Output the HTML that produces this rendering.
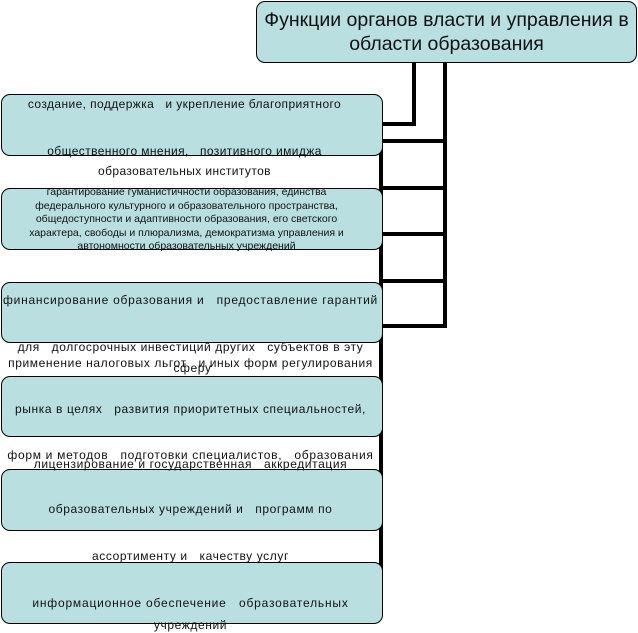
<!DOCTYPE html>
<html><head><meta charset="utf-8"><style>
body{margin:0;width:638px;height:633px;background:#fff;position:relative;overflow:hidden;font-family:"Liberation Sans","DejaVu Sans",sans-serif;}
.b{position:absolute;background:#b9dfe1;border:1px solid #000;border-radius:9px;box-sizing:border-box;}
.l{position:absolute;background:#000;}
.t{position:absolute;left:0;width:385px;text-align:center;font-size:12px;line-height:14px;color:#111;white-space:nowrap;letter-spacing:0.4px;}
.s{font-size:10.5px;line-height:13.5px;letter-spacing:0;}
</style></head><body>
<div class="b" style="left:256px;top:1px;width:381px;height:62px;"></div>
<div style="position:absolute;left:256px;top:8px;width:381px;text-align:center;font-size:19.5px;line-height:24px;color:#111;">Функции органов власти и управления в<br>области образования</div>

<div class="l" style="left:412px;top:62px;width:4px;height:64px;"></div>
<div class="l" style="left:382px;top:122px;width:34px;height:4px;"></div>
<div class="l" style="left:443px;top:62px;width:4px;height:266px;"></div>
<div class="l" style="left:379px;top:139px;width:4px;height:455px;"></div>
<div class="l" style="left:381px;top:139px;width:66px;height:4px;"></div>
<div class="l" style="left:381px;top:186px;width:66px;height:4px;"></div>
<div class="l" style="left:381px;top:232px;width:66px;height:4px;"></div>
<div class="l" style="left:381px;top:279px;width:66px;height:4px;"></div>
<div class="l" style="left:381px;top:324px;width:66px;height:4px;"></div>

<div class="b" style="left:1px;top:94px;width:382px;height:62px;"></div>
<div class="b" style="left:1px;top:188px;width:382px;height:62px;"></div>
<div class="b" style="left:1px;top:282px;width:382px;height:61px;"></div>
<div class="b" style="left:1px;top:376px;width:382px;height:61px;"></div>
<div class="b" style="left:1px;top:469px;width:382px;height:62px;"></div>
<div class="b" style="left:1px;top:562px;width:382px;height:62px;"></div>

<div class="t" style="top:97px;left:-8px;">создание, поддержка &nbsp; и укрепление благоприятного</div>
<div class="t" style="top:144px;left:-8px;">общественного мнения, &nbsp; позитивного имиджа</div>
<div class="t" style="top:164px;left:-8px;">образовательных институтов</div>
<div class="t s" style="top:186px;left:-6px;">гарантирование гуманистичности образования, единства<br>федерального культурного и образовательного пространства,<br>общедоступности и адаптивности образования, его светского<br>характера, свободы и плюрализма, демократизма управления и<br>автономности образовательных учреждений</div>
<div class="t" style="top:293px;left:-2px;letter-spacing:0.75px;">финансирование образования и &nbsp; предоставление гарантий</div>
<div class="t" style="top:340px;left:-2px;letter-spacing:0.6px;">для &nbsp; долгосрочных инвестиций других &nbsp; субъектов в эту</div>
<div class="t" style="top:361px;left:0;width:385px;letter-spacing:0.6px;">сферу</div>
<div class="t" style="top:356px;left:-2px;letter-spacing:0.6px;">применение налоговых льгот &nbsp; и иных форм регулирования</div>
<div class="t" style="top:402px;left:-2px;letter-spacing:0.6px;">рынка в целях &nbsp; развития приоритетных специальностей,</div>
<div class="t" style="top:448px;left:-2px;letter-spacing:0.7px;">форм и методов &nbsp; подготовки специалистов, &nbsp; образования</div>
<div class="t" style="top:457px;left:-2px;letter-spacing:0.6px;">лицензирование и государственная &nbsp; аккредитация</div>
<div class="t" style="top:502px;left:-2px;letter-spacing:0.6px;">образовательных учреждений и &nbsp; программ по</div>
<div class="t" style="top:549px;left:-2px;letter-spacing:0.6px;">ассортименту и &nbsp; качеству услуг</div>
<div class="t" style="top:596px;left:-2px;letter-spacing:0.8px;">информационное обеспечение &nbsp; образовательных</div>
<div class="t" style="top:618px;left:-2px;letter-spacing:0.6px;">учреждений</div>
</body></html>
